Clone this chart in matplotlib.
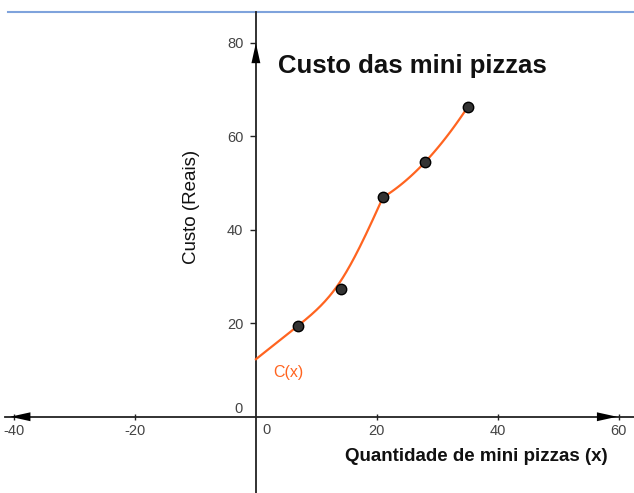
import numpy as np
import matplotlib
matplotlib.use("Agg")
import matplotlib.pyplot as plt

# dados
quantidade = [7, 14, 21, 28, 35]
custo = [19.5, 27.3, 46.9, 54.5, 66.2]

# pontos por onde passa a curva C(x)
curva_x1 = [0, 7, 14, 21]
curva_y1 = [12.3, 19.5, 29.0, 46.9]
curva_x2 = [21, 28, 35]
curva_y2 = [46.9, 54.5, 66.2]

xticks = [-40, -20, 20, 40, 60]
yticks = [20, 40, 60, 80]

plt.rcParams['font.family'] = ['Liberation Sans', 'DejaVu Sans']


def spline_natural(x, y, xs):
    # spline cubica natural (segunda derivada nula nas pontas)
    x = np.asarray(x, float)
    y = np.asarray(y, float)
    n = len(x)
    h = np.diff(x)
    d = np.diff(y) / h
    A = np.zeros((n, n))
    b = np.zeros(n)
    A[0, 0] = A[-1, -1] = 1
    for i in range(1, n - 1):
        A[i, i - 1] = h[i - 1]
        A[i, i] = 2 * (h[i - 1] + h[i])
        A[i, i + 1] = h[i]
        b[i] = 6 * (d[i] - d[i - 1])
    M = np.linalg.solve(A, b)
    i = np.clip(np.searchsorted(x, xs) - 1, 0, n - 2)
    a = x[i + 1] - xs
    c = xs - x[i]
    return (M[i] * a**3 / (6 * h[i]) + M[i + 1] * c**3 / (6 * h[i])
            + (y[i] / h[i] - M[i] * h[i] / 6) * a
            + (y[i + 1] / h[i] - M[i + 1] * h[i] / 6) * c)


fig = plt.figure(figsize=(6.34, 4.93), dpi=100)
ax = fig.add_axes([0, 0, 1, 1])
ax.set_xlim(-42.3, 62.5)
ax.set_ylim(-16.3, 89.1)

# eixos no zero
for lado in ('top', 'right'):
    ax.spines[lado].set_visible(False)
ax.spines['left'].set_position(('data', 0))
ax.spines['bottom'].set_position(('data', 0))
ax.spines['left'].set_bounds(-16.3, 86.5)
ax.spines['bottom'].set_bounds(-41.5, 62.5)
for lado in ('left', 'bottom'):
    ax.spines[lado].set_linewidth(1.3)
    ax.spines[lado].set_color('#222222')

ax.set_xticks(xticks)
ax.set_xticklabels([str(t) for t in xticks])
ax.set_yticks(yticks)
ax.set_yticklabels([str(t) for t in yticks])
ax.tick_params(axis='x', direction='inout', length=4, width=1, pad=3,
               labelsize=10.5, labelcolor='#444444', color='#222222')
ax.tick_params(axis='y', direction='out', length=4, width=1, pad=5,
               labelsize=10.5, labelcolor='#444444', color='#222222')

# linha azul no topo
ax.axhline(86.5, xmin=0.012, color='#7fa3dc', lw=1.5)

# setas dos eixos
seta = dict(arrowstyle='-|>,head_length=1.45,head_width=0.32', color='black',
            lw=0, shrinkA=0, shrinkB=0)
ax.annotate('', xy=(0, 79.9), xytext=(0, 76.6), arrowprops=seta)
ax.annotate('', xy=(59.7, 0), xytext=(56.2, 0), arrowprops=seta)
ax.annotate('', xy=(-40.6, 0), xytext=(-36.9, 0), arrowprops=seta)

# rotulos da origem
ax.text(-2.8, 1.6, '0', ha='center', va='center', fontsize=10.5, color='#444444')
ax.text(1.7, -2.9, '0', ha='center', va='center', fontsize=10.5, color='#444444')

# curva C(x) em dois trechos
xs = np.linspace(curva_x1[0], curva_x1[-1], 150)
ax.plot(xs, spline_natural(curva_x1, curva_y1, xs), color='#ff6420', lw=1.6, zorder=3)
pb = np.polyfit(curva_x2, curva_y2, 2)
xs = np.linspace(curva_x2[0], curva_x2[-1], 100)
ax.plot(xs, np.polyval(pb, xs), color='#ff6420', lw=1.6, zorder=3)

ax.plot(quantidade, custo, 'o', color='#333333', mec='black', ms=7.5, zorder=4)

ax.text(2.8, 9.4, 'C(x)', color='#ff6420', fontsize=11.5, ha='left', va='center')

ax.text(3.6, 73.5, 'Custo das mini pizzas', fontsize=18.5, fontweight='bold',
        ha='left', va='baseline', color='#111111')
ax.text(14.8, -9.4, 'Quantidade de mini pizzas (x)', fontsize=13.5, fontweight='bold',
        ha='left', va='baseline', color='#111111')
ax.text(-10.6, 44.8, 'Custo (Reais)', fontsize=13.5, rotation=90,
        ha='center', va='center', color='#111111')

fig.savefig('out.png', dpi=100)
